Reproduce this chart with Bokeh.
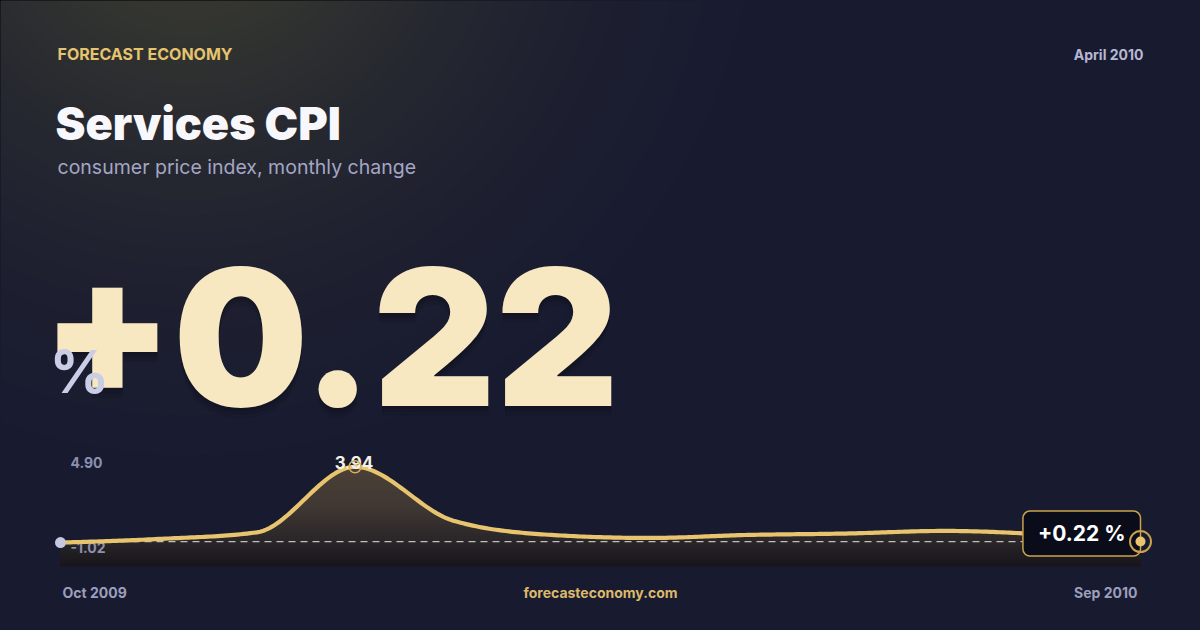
import numpy as np
from bokeh.plotting import figure
from bokeh.models import Range1d
from bokeh.core.properties import value
from bokeh.embed import file_html
from bokeh.resources import INLINE

# ---------------- data ----------------
brand = "FORECAST ECONOMY"
period = "April 2010"
title = "Services CPI"
subtitle = "consumer price index, monthly change"
site = "forecasteconomy.com"
unit = "%"
months = ["Oct 2009", "Nov 2009", "Dec 2009", "Jan 2010", "Feb 2010", "Mar 2010",
          "Apr 2010", "May 2010", "Jun 2010", "Jul 2010", "Aug 2010", "Sep 2010"]
values = [0.17, 0.35, 0.68, 3.94, 1.26, 0.55, 0.40, 0.55, 0.62, 0.75, 0.58, 0.22]
axis_min = -1.02
axis_max = 4.90
axis_labels = ["4.90", "-1.02"]

# ---------------- layout constants (page pixels) ----------------
W, H = 1184, 614
CH_L, CH_R, CH_T, CH_B = 60.0, 1140.0, 447.0, 566.0
BG = "#181a30"
GOLD = "#e8c46f"
FONT = value("Inter")
BLACKFONT = value("Inter Black")
CENTRAL = 0.37   # text is placed by its centre line: shift up by this share of the size


def base(b, size):
    """y position that puts the text's alphabetic baseline at page row b"""
    return b - CENTRAL * size


p = figure(width=W, height=H, output_backend="svg", toolbar_location=None,
           x_range=Range1d(0, W), y_range=Range1d(H, 0),
           min_border=0, outline_line_color=None,
           background_fill_color=BG, border_fill_color=BG)
p.axis.visible = False
p.grid.visible = False

# sparkline scales: index -> x, value -> y
n = len(values)
px_per_i = (CH_R - CH_L) / (n - 1)
px_per_v = (CH_B - CH_T) / (axis_max - axis_min)
p.extra_x_ranges = {"t": Range1d(0 - CH_L / px_per_i, (n - 1) + (W - CH_R) / px_per_i)}
p.extra_y_ranges = {"v": Range1d(axis_min - (H - CH_B) / px_per_v, axis_max + CH_T / px_per_v)}

# ---------------- background glow (top-left warm light) ----------------
ds = np.linspace(0, 700, 700)
A = 0.62 * np.clip(1 - ds / 640.0, 0, 1) ** 1.6
a = 0.02
cnt = np.log(1 - A) / np.log(1 - a)
K = int(np.floor(cnt[0]))
radii = np.interp(np.arange(1, K + 1), cnt[::-1], ds[::-1])
p.circle(x=[190] * K, y=[-110] * K, radius=list(radii), fill_color="#634f2c",
         fill_alpha=a, line_color=None)

# ---------------- smooth (monotone) rendering of the series ----------------
def monotone(xs, ys, per=30):
    xs = np.asarray(xs, float); ys = np.asarray(ys, float)
    h = np.diff(xs); s = np.diff(ys) / h
    t = np.zeros(len(xs))
    for i in range(1, len(xs) - 1):
        if s[i - 1] * s[i] > 0:
            pp = (s[i - 1] * h[i] + s[i] * h[i - 1]) / (h[i - 1] + h[i])
            t[i] = 2 * np.sign(s[i]) * min(abs(s[i - 1]), abs(s[i]), 0.5 * abs(pp))
    t[0] = (3 * s[0] - t[1]) / 2
    t[-1] = (3 * s[-1] - t[-2]) / 2
    ox, oy = [], []
    for i in range(len(xs) - 1):
        u = np.linspace(0, 1, per, endpoint=(i == len(xs) - 2))
        h00 = 2 * u**3 - 3 * u**2 + 1; h10 = u**3 - 2 * u**2 + u
        h01 = -2 * u**3 + 3 * u**2; h11 = u**3 - u**2
        ox.append(xs[i] + u * h[i])
        oy.append(h00 * ys[i] + h10 * h[i] * t[i] + h01 * ys[i + 1] + h11 * h[i] * t[i + 1])
    return np.concatenate(ox), np.concatenate(oy)

cx, cy = monotone(np.arange(n), values)

# area under the curve, vertical gradient emulated with stacked layers
stops_v = [axis_max, 2.0, values[-1], axis_min]
stops_c = [(82, 70, 58), (64, 56, 51), (42, 38, 41), (23, 22, 28)]
NB = 40
levels = np.linspace(axis_min, axis_max, NB + 1)
for k in range(NB, 0, -1):
    mid = 0.5 * (levels[k] + levels[k - 1])
    col = [int(np.interp(mid, stops_v[::-1], [c[j] for c in stops_c][::-1])) for j in range(3)]
    p.varea(x=cx, y1=np.full_like(cx, axis_min), y2=np.minimum(cy, levels[k]),
            fill_color="#%02x%02x%02x" % tuple(col), x_range_name="t", y_range_name="v")

# range labels (under the line)
p.text(x=[0, 0], y=[axis_max, axis_min], text=axis_labels, x_range_name="t", y_range_name="v",
       x_offset=10, y_offset=[20 - CENTRAL * 14, -14 - CENTRAL * 14], text_font=FONT,
       text_font_style="bold", text_font_size="14px", text_color="#8d90ae",
       text_baseline="alphabetic")

# reference line at the latest value
p.line(x=[0, n - 1], y=[values[-1], values[-1]], x_range_name="t", y_range_name="v",
       line_color="#ffffff", line_alpha=0.7, line_width=1.2, line_dash="7 5")

# the series
p.line(x=cx, y=cy, x_range_name="t", y_range_name="v", line_color=GOLD, line_width=4.2,
       line_join="round", line_cap="round")

# first point
p.scatter(x=[0], y=[values[0]], x_range_name="t", y_range_name="v", size=11,
          fill_color="#c4c8e0", line_color=None)

# peak label + marker
ipk = int(np.argmax(values))
p.text(x=[ipk], y=[values[ipk]], text=["%.2f" % values[ipk]], x_range_name="t", y_range_name="v",
       x_offset=-1, y_offset=2 - CENTRAL * 17, text_font=FONT, text_font_style="bold",
       text_font_size="17px", text_color="#f3f1ea", text_align="center",
       text_baseline="alphabetic")
p.scatter(x=[ipk], y=[values[ipk]], x_range_name="t", y_range_name="v", size=12,
          fill_color=None, line_color="#d8b05a", line_width=1.5)

# last point callout
p.text(x=[n - 1], y=[values[-1]], text=["%+.2f %s" % (values[-1], unit)],
       x_range_name="t", y_range_name="v", x_offset=0, y_offset=-8,
       text_font=FONT, text_font_style="bold", text_font_size="21px", text_color="#ffffff",
       text_align="right", text_baseline="middle",
       background_fill_color="#0b0c1a", border_line_color="#c9a24e", border_line_width=1.5,
       border_radius=7, padding=dict(left=15, right=15, top=10, bottom=10))
p.scatter(x=[n - 1], y=[values[-1]], x_range_name="t", y_range_name="v", size=21,
          fill_color=None, line_color="#c9a24e", line_width=2)
p.scatter(x=[n - 1], y=[values[-1]], x_range_name="t", y_range_name="v", size=10,
          fill_color=GOLD, line_color=None)

# ---------------- header texts ----------------
p.text(x=[57], y=[base(59.3, 16)], text=[brand], text_font=FONT, text_font_style="bold",
       text_font_size="16px", text_color="#e6c46e", text_baseline="alphabetic")
p.text(x=[1143], y=[base(59.5, 14)], text=[period], text_font=FONT, text_font_style="bold",
       text_font_size="14px", text_color="#b6b8d1", text_align="right",
       text_baseline="alphabetic")
p.text(x=[55], y=[base(140, 45)], text=[title], text_font=BLACKFONT, text_font_size="45px",
       text_color="#f8f8fc", text_baseline="alphabetic")
p.text(x=[57], y=[base(173.3, 19.5)], text=[subtitle], text_font=FONT,
       text_font_size="19.5px", text_color="#a4a6c5", text_baseline="alphabetic")

# headline value (soft shadow + body)
headline = "%+.2f" % values[-1]
for dy, al in [(10, 0.10), (6, 0.12), (3, 0.14)]:
    p.text(x=[41], y=[base(407, 190) + dy], text=[headline], text_font=BLACKFONT,
           text_font_size="190px", text_color="#05060d", text_alpha=al,
           text_baseline="alphabetic")
p.text(x=[41], y=[base(407, 190)], text=[headline], text_font=BLACKFONT,
       text_font_size="190px", text_color="#f7e8c2", text_baseline="alphabetic")
p.text(x=[49], y=[base(393, 59)], text=[unit], text_font=FONT, text_font_style="bold",
       text_font_size="59px", text_color="#c9cde6", text_baseline="alphabetic")

# ---------------- footer ----------------
p.text(x=[62], y=[base(597.3, 14)], text=[months[0]], text_font=FONT, text_font_style="bold",
       text_font_size="14px", text_color="#9c9fbc", text_baseline="alphabetic")
p.text(x=[600], y=[base(597.3, 14)], text=[site], text_font=FONT, text_font_style="bold",
       text_font_size="14px", text_color="#dcb96a", text_align="center",
       text_baseline="alphabetic")
p.text(x=[1137], y=[base(597.3, 14)], text=[months[-1]], text_font=FONT,
       text_font_style="bold", text_font_size="14px", text_color="#9c9fbc",
       text_align="right", text_baseline="alphabetic")

html = file_html(p, INLINE)
html = html.replace("<head>", "<head><style>html,body{background:%s;}</style>" % BG, 1)
open("out.html", "w").write(html)
